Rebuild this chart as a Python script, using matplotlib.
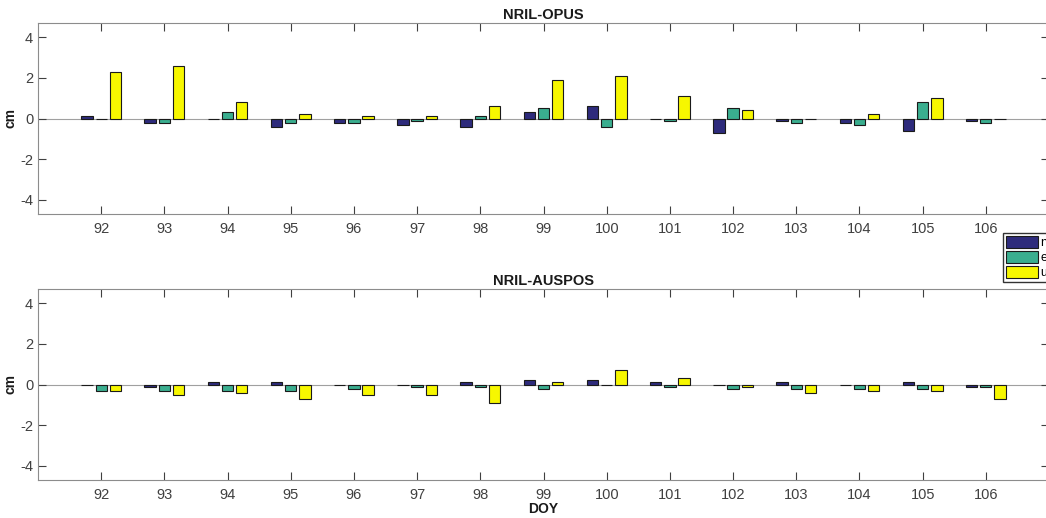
import matplotlib
matplotlib.use("Agg")
import matplotlib.pyplot as plt
import numpy as np

plt.rcParams['font.family'] = ['Liberation Sans', 'DejaVu Sans']
plt.rcParams['axes.unicode_minus'] = False

doy = [92, 93, 94, 95, 96, 97, 98, 99, 100, 101, 102, 103, 104, 105, 106]
series_labels = ['n', 'e', 'u']

opus_n = [0.1, -0.2, 0.0, -0.4, -0.2, -0.3, -0.4, 0.3, 0.6, 0.0, -0.7, -0.1, -0.2, -0.6, -0.1]
opus_e = [0.0, -0.2, 0.3, -0.2, -0.2, -0.1, 0.1, 0.5, -0.4, -0.1, 0.5, -0.2, -0.3, 0.8, -0.2]
opus_u = [2.3, 2.6, 0.8, 0.2, 0.1, 0.1, 0.6, 1.9, 2.1, 1.1, 0.4, 0.0, 0.2, 1.0, 0.0]

auspos_n = [0.0, -0.1, 0.1, 0.1, 0.0, 0.0, 0.1, 0.2, 0.2, 0.1, 0.0, 0.1, 0.0, 0.1, -0.1]
auspos_e = [-0.3, -0.3, -0.3, -0.3, -0.2, -0.1, -0.1, -0.2, 0.0, -0.1, -0.2, -0.2, -0.2, -0.2, -0.1]
auspos_u = [-0.3, -0.5, -0.4, -0.7, -0.5, -0.5, -0.9, 0.1, 0.7, 0.3, -0.1, -0.4, -0.3, -0.3, -0.7]

colors = ['#2e2b7c', '#3aae8f', '#f7f700']
W, H = 1046, 518
LEFT_PX, RIGHT_PX = 38, 1049

fig = plt.figure(figsize=(W / 100, H / 100), dpi=100)

def make_axes(top_px, bottom_px):
    left = LEFT_PX / W
    right = RIGHT_PX / W
    return fig.add_axes([left, 1 - bottom_px / H, right - left, (bottom_px - top_px) / H])

ax1 = make_axes(23, 214)
ax2 = make_axes(289, 480)

x = np.array(doy, dtype=float)
offs = [-0.225, 0.0, 0.225]
bw = 0.18

handles = None
for ax, data, title in [(ax1, [opus_n, opus_e, opus_u], 'NRIL-OPUS'),
                        (ax2, [auspos_n, auspos_e, auspos_u], 'NRIL-AUSPOS')]:
    ax.axhline(0, color='#a0a0a0', lw=0.8, zorder=1)
    hs = []
    for vals, off, c, lab in zip(data, offs, colors, series_labels):
        h = ax.bar(x + off, vals, width=bw, color=c, edgecolor='#1a1a1a',
                   linewidth=0.8, label=lab, zorder=2)
        hs.append(h)
    if handles is None:
        handles = hs
    ax.set_xlim(91, 107)
    ax.set_ylim(-4.7, 4.7)
    ax.set_xticks(doy)
    ax.set_xticklabels([str(d) for d in doy])
    ax.set_yticks([-4, -2, 0, 2, 4])
    ax.tick_params(axis='both', direction='in', length=6, width=0.8,
                   colors='#404040', labelsize=10.5, top=True, right=True)
    ax.tick_params(axis='x', pad=6)
    for s in ax.spines.values():
        s.set_color('#8c8c8c')
        s.set_linewidth(0.8)
    ax.set_title(title, fontsize=10.5, fontweight='bold', pad=3, color='#1a1a1a')
    ax.set_ylabel('cm', fontsize=10, fontweight='bold', color='#1a1a1a')
    ax.yaxis.set_label_coords((17 - LEFT_PX) / (RIGHT_PX - LEFT_PX), 0.5)

ax2.set_xlabel('DOY', fontsize=10, fontweight='bold', labelpad=0, color='#1a1a1a')

fig.legend(handles=handles, labels=series_labels, loc='upper left',
           bbox_to_anchor=(1003 / W, 1 - 233 / H), fontsize=9,
           frameon=True, fancybox=False, edgecolor='#333333', framealpha=1,
           borderpad=0.2, labelspacing=0.15, handlelength=2.6, handleheight=1.1,
           handletextpad=0.2, borderaxespad=0)

fig.savefig('out.png', dpi=100)
